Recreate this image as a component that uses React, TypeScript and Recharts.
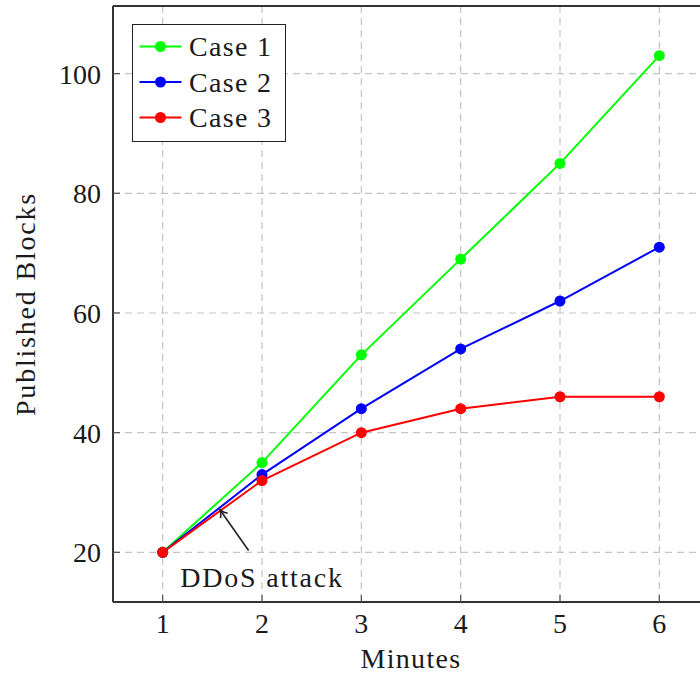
import React from 'react';
import {
  LineChart,
  Line,
  XAxis,
  YAxis,
  CartesianGrid,
  Legend,
  ReferenceLine,
  ReferenceDot,
} from 'recharts';

const minutes = [1, 2, 3, 4, 5, 6];
const case1 = [20, 35, 53, 69, 85, 103];
const case2 = [20, 33, 44, 54, 62, 71];
const case3 = [20, 32, 40, 44, 46, 46];
const xTicks = [1, 2, 3, 4, 5, 6];
const yTicks = [20, 40, 60, 80, 100];
const seriesKeys = ['c1', 'c2', 'c3'];
const seriesNames = ['Case 1', 'Case 2', 'Case 3'];
const seriesColors = ['#00ff00', '#0000ff', '#ff0000'];
const xDomain = [0.5, 6.5];
const yDomain = [11.7, 111.3];
const xLabel = 'Minutes';
const yLabel = 'Published Blocks';
const annotationText = 'DDoS attack';
const arrowTail = { x: 1.865, y: 20.3 };
const arrowTip = { x: 1.573, y: 27.2 };
const annotationPos = { x: 2, y: 16 };

const data = minutes.map((m, i) => ({ minute: m, c1: case1[i], c2: case2[i], c3: case3[i] }));

const FONT = '"Liberation Serif", "Times New Roman", serif';
const TEXT = '#1a1a1a';

const LegendBox = (props: any) => {
  const payload = props.payload || [];
  return (
    <div
      style={{
        width: 154,
        height: 118,
        boxSizing: 'border-box',
        border: '1.6px solid #222',
        background: '#fff',
      }}
    >
      <svg width={151} height={115} style={{ display: 'block' }}>
        {payload.map((p: any, i: number) => {
          const cy = 21.5 + i * 35.5;
          return (
            <g key={i}>
              <line x1={6.5} x2={48.5} y1={cy} y2={cy} stroke={p.color} strokeWidth={2} />
              <circle cx={27.5} cy={cy} r={5.5} fill={p.color} />
              <text
                x={56}
                y={cy}
                dy="0.34em"
                fontFamily={FONT}
                fontSize={28}
                letterSpacing={1.3}
                fill={TEXT}
              >
                {p.value}
              </text>
            </g>
          );
        })}
      </svg>
    </div>
  );
};

const Arrow = (props: any) => {
  const { x1, y1, x2, y2 } = props;
  if ([x1, y1, x2, y2].some((v) => typeof v !== 'number' || isNaN(v))) return null;
  const ang = Math.atan2(y2 - y1, x2 - x1);
  const len = 9;
  const spread = 0.5;
  const ax = x2 - len * Math.cos(ang - spread);
  const ay = y2 - len * Math.sin(ang - spread);
  const bx = x2 - len * Math.cos(ang + spread);
  const by = y2 - len * Math.sin(ang + spread);
  return (
    <g>
      <line x1={x1} y1={y1} x2={x2} y2={y2} stroke="#222" strokeWidth={1.6} />
      <path
        d={`M${ax},${ay} Q${x2 - 3 * Math.cos(ang)},${y2 - 3 * Math.sin(ang)} ${x2},${y2} Q${x2 - 3 * Math.cos(ang)},${y2 - 3 * Math.sin(ang)} ${bx},${by}`}
        fill="none"
        stroke="#222"
        strokeWidth={1.6}
      />
    </g>
  );
};

const AnnotationText = (props: any) => {
  const { cx, cy } = props;
  return (
    <text
      x={cx}
      y={cy}
      dy="0.4em"
      textAnchor="middle"
      fontFamily={FONT}
      fontSize={28}
      letterSpacing={1.8}
      fill={TEXT}
    >
      {annotationText}
    </text>
  );
};

const YLabel = (props: any) => {
  const vb = props.viewBox || {};
  const cx = vb.x + 25;
  const cy = vb.y + vb.height / 2;
  return (
    <text
      x={cx}
      y={cy}
      dy="0.35em"
      textAnchor="middle"
      transform={`rotate(-90, ${cx}, ${cy})`}
      fontFamily={FONT}
      fontSize={28}
      letterSpacing={1.8}
      fill={TEXT}
    >
      {yLabel}
    </text>
  );
};

const XLabel = (props: any) => {
  const vb = props.viewBox || {};
  return (
    <text
      x={vb.x + vb.width / 2}
      y={vb.y + 66}
      textAnchor="middle"
      fontFamily={FONT}
      fontSize={28}
      letterSpacing={1.3}
      fill={TEXT}
    >
      {xLabel}
    </text>
  );
};

export default function App() {
  return (
    <div
      style={{
        position: 'absolute',
        left: 0,
        top: 0,
        width: 700,
        height: 677,
        overflow: 'hidden',
        background: '#fff',
        fontFamily: FONT,
      }}
    >
      <LineChart width={720} height={677} data={data} margin={{ top: 6, right: 11, bottom: 0, left: 0 }}>
        <CartesianGrid stroke="#c4c4c4" strokeWidth={1.2} strokeDasharray="7 5" />
        <XAxis
          dataKey="minute"
          type="number"
          domain={xDomain}
          ticks={xTicks}
          allowDataOverflow
          height={75}
          axisLine={{ stroke: '#333', strokeWidth: 2 }}
          tickLine={{ stroke: '#555', strokeWidth: 1.2 }}
          tickSize={-7}
          tickMargin={18}
          tick={{ fontSize: 28, fill: TEXT, fontFamily: FONT }}
          label={<XLabel />}
        />
        <XAxis
          xAxisId="top"
          dataKey="minute"
          type="number"
          orientation="top"
          mirror
          domain={xDomain}
          ticks={xTicks}
          allowDataOverflow
          height={1}
          tick={false}
          axisLine={{ stroke: '#333', strokeWidth: 2 }}
          tickLine={{ stroke: '#555', strokeWidth: 1.2 }}
          tickSize={7}
        />
        <YAxis
          type="number"
          domain={yDomain}
          ticks={yTicks}
          allowDataOverflow
          width={113}
          axisLine={{ stroke: '#333', strokeWidth: 2 }}
          tickLine={{ stroke: '#555', strokeWidth: 1.2 }}
          tickSize={-7}
          tickMargin={19}
          tick={{ fontSize: 28, fill: TEXT, fontFamily: FONT }}
          label={<YLabel />}
        />
        <Legend
          layout="vertical"
          align="center"
          verticalAlign="middle"
          content={<LegendBox />}
          wrapperStyle={{ top: 24, left: 132, width: 154, height: 118 }}
        />
        {seriesKeys.map((k, i) => (
          <Line
            key={k}
            dataKey={k}
            name={seriesNames[i]}
            stroke={seriesColors[i]}
            strokeWidth={2}
            dot={{ r: 5.5, fill: seriesColors[i], stroke: seriesColors[i], strokeWidth: 0 }}
            activeDot={false}
            isAnimationActive={false}
          />
        ))}
        <ReferenceLine
          segment={[arrowTail, arrowTip]}
          shape={<Arrow />}
          ifOverflow="visible"
        />
        <ReferenceDot
          x={annotationPos.x}
          y={annotationPos.y}
          r={0}
          shape={<AnnotationText />}
          ifOverflow="visible"
        />
      </LineChart>
    </div>
  );
}
